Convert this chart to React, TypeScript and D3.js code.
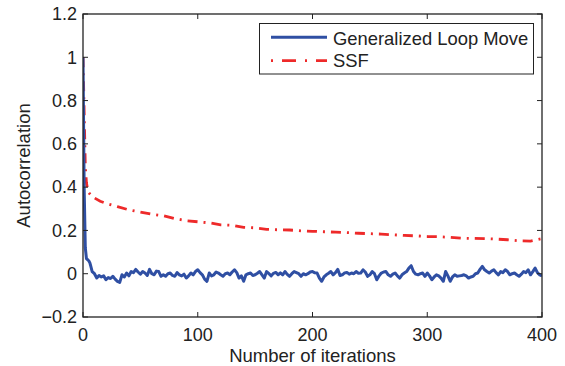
import React from 'react';
import * as d3 from 'd3';

const xTicks = [0, 100, 200, 300, 400];
const xTickLabels = ['0', '100', '200', '300', '400'];
const yTicks = [-0.2, 0, 0.2, 0.4, 0.6, 0.8, 1, 1.2];
const yTickLabels = ['\u22120.2', '0', '0.2', '0.4', '0.6', '0.8', '1', '1.2'];
const seriesNames = ['Generalized Loop Move', 'SSF'];
const xLabel = 'Number of iterations';
const yLabel = 'Autocorrelation';

// Generalized Loop Move: first iterations individually, then every 2 iterations from 10
const blueHeadIter = [0, 1, 2, 3, 4, 5, 6, 7, 8];
const blueHeadVal = [1.0, 0.4, 0.12, 0.07, 0.065, 0.06, 0.05, 0.03, 0.01];
const blueBodyStart = 10;
const blueBodyStep = 2;
const blueBodyVal = [
  0.0, -0.02, -0.008, -0.015, -0.01, -0.028, -0.018, -0.022, -0.012, -0.025,
  -0.035, -0.04, -0.005, -0.015, 0.003, -0.01, 0.01, 0.005, 0.02, 0.008,
  -0.002, 0.01, 0.003, -0.008, 0.02, 0.0, -0.005, 0.012, 0.01, -0.012,
  -0.005, -0.012, 0.0, 0.003, -0.008, -0.012, 0.005, -0.005, -0.01, -0.002,
  -0.02, -0.01, 0.003, -0.005, 0.01, 0.018, 0.005, -0.005, -0.025, -0.035,
  0.003, -0.01, -0.005, 0.008, 0.003, -0.005, -0.012, 0.0, 0.003, -0.005,
  0.008, 0.018, 0.005, -0.02, -0.01, -0.035, -0.005, 0.0, 0.003, -0.008,
  -0.005, 0.002, 0.01, -0.005, -0.02, 0.01, 0.0, -0.01, 0.002, 0.006,
  -0.005, 0.004, -0.005, 0.01, -0.003, -0.012, 0.0, 0.01, 0.005, 0.0,
  -0.012, 0.0, -0.005, 0.0, 0.008, 0.01, 0.004, 0.003, -0.02, -0.035,
  -0.015, -0.005, 0.002, 0.01, -0.005, 0.005, 0.02, -0.008, -0.005, 0.004,
  0.006, -0.002, 0.003, 0.0, 0.01, 0.002, 0.003, 0.018, 0.008, -0.012,
  -0.005, 0.01, 0.0, -0.028, -0.01, 0.003, 0.008, 0.01, -0.005, -0.012,
  -0.002, 0.003, -0.01, -0.02, -0.005, 0.003, 0.01, 0.026, 0.037, 0.01,
  -0.002, -0.005, 0.0, 0.003, -0.012, 0.003, -0.01, -0.028, -0.015, -0.005,
  -0.01, -0.02, -0.035, 0.01, -0.01, -0.035, -0.015, -0.005, -0.012, -0.01,
  -0.008, -0.005, -0.01, -0.02, -0.015, -0.012, 0.0, 0.003, 0.02, 0.034,
  0.018, 0.01, 0.003, 0.012, 0.018, 0.005, -0.005, 0.01, 0.005, 0.018,
  0.01, -0.005, 0.0, 0.003, -0.005, -0.012, -0.002, 0.01, 0.005, 0.018,
  -0.005, 0.01, 0.026, 0.005, -0.005, -0.01,
];

// SSF
const redIter = [0, 1, 2, 3, 4, 5, 8, 10, 15, 20, 30, 40, 50, 60, 70, 80, 90, 100, 110, 120, 130, 140, 150, 160, 170, 180, 190, 200, 210, 220, 230, 240, 250, 260, 270, 280, 290, 300, 310, 320, 330, 340, 350, 360, 370, 380, 390, 400];
const redVal = [1.0, 0.75, 0.5, 0.42, 0.39, 0.375, 0.355, 0.35, 0.335, 0.325, 0.31, 0.295, 0.285, 0.275, 0.268, 0.255, 0.245, 0.24, 0.235, 0.226, 0.224, 0.214, 0.212, 0.205, 0.203, 0.202, 0.198, 0.196, 0.194, 0.192, 0.19, 0.187, 0.185, 0.183, 0.18, 0.177, 0.175, 0.172, 0.171, 0.168, 0.164, 0.163, 0.162, 0.16, 0.157, 0.152, 0.151, 0.162];

const BLUE = '#2f4fa3';
const RED = '#ee2a2a';
const FONT = '"Liberation Sans", Arial, Helvetica, sans-serif';

export default function App() {
  const W = 565, H = 366;
  const L = 83, R = 542, T = 14, B = 317;
  const x = d3.scaleLinear().domain([0, 400]).range([L, R]);
  const y = d3.scaleLinear().domain([-0.2, 1.2]).range([B, T]);

  const bluePts: [number, number][] = [
    ...blueHeadIter.map((it, i) => [it, blueHeadVal[i]] as [number, number]),
    ...blueBodyVal.map((v, i) => [blueBodyStart + i * blueBodyStep, v] as [number, number]),
  ];
  const redPts: [number, number][] = redIter.map((it, i) => [it, redVal[i]]);

  const line = d3.line<[number, number]>().x(d => x(d[0])).y(d => y(d[1]));
  const tickLen = 5;

  return (
    <svg width={W} height={H} style={{ position: 'absolute', left: 0, top: 0, background: '#fff' }}>
      <defs>
        <clipPath id="plotclip">
          <rect x={L} y={T} width={R - L} height={B - T} />
        </clipPath>
      </defs>
      <rect x={0} y={0} width={W} height={H} fill="#fff" />
      <g clipPath="url(#plotclip)">
        <path d={line(redPts) || ''} fill="none" stroke={RED} strokeWidth={2.8} strokeDasharray="10,6,2,6" />
        <path d={line(bluePts) || ''} fill="none" stroke={BLUE} strokeWidth={3} strokeLinejoin="round" />
      </g>
      {/* box */}
      <rect x={L} y={T} width={R - L} height={B - T} fill="none" stroke="#222" strokeWidth={1.3} />
      {/* x ticks */}
      {xTicks.map((t, i) => (
        <g key={'xt' + i}>
          <line x1={x(t)} x2={x(t)} y1={B} y2={B - tickLen} stroke="#222" strokeWidth={1} />
          <line x1={x(t)} x2={x(t)} y1={T} y2={T + tickLen} stroke="#222" strokeWidth={1} />
          <text x={x(t)} y={340.5} textAnchor="middle" fontFamily={FONT} fontSize={18} fill="#222">{xTickLabels[i]}</text>
        </g>
      ))}
      {yTicks.map((t, i) => (
        <g key={'yt' + i}>
          <line x1={L} x2={L + tickLen} y1={y(t)} y2={y(t)} stroke="#222" strokeWidth={1} />
          <line x1={R} x2={R - tickLen} y1={y(t)} y2={y(t)} stroke="#222" strokeWidth={1} />
          <text x={77} y={y(t) + 6.3} textAnchor="end" fontFamily={FONT} fontSize={18} fill="#222">{yTickLabels[i]}</text>
        </g>
      ))}
      <text x={(L + R) / 2} y={361.5} textAnchor="middle" fontFamily={FONT} fontSize={18.5} fill="#222">{xLabel}</text>
      <text transform={`translate(30,${(T + B) / 2}) rotate(-90)`} textAnchor="middle" fontFamily={FONT} fontSize={18.5} fill="#222">{yLabel}</text>
      {/* legend */}
      <rect x={259.5} y={23.5} width={274} height={50.5} fill="#fff" stroke="#222" strokeWidth={1} />
      <line x1={271} x2={327} y1={37.3} y2={37.3} stroke={BLUE} strokeWidth={3} />
      <line x1={271} x2={327} y1={60.7} y2={60.7} stroke={RED} strokeWidth={2.8} strokeDasharray="2,9,14,9" />
      <text x={333} y={44.5} fontFamily={FONT} fontSize={18.4} fill="#222">{seriesNames[0]}</text>
      <text x={333} y={67} fontFamily={FONT} fontSize={18.4} fill="#222">{seriesNames[1]}</text>
    </svg>
  );
}
